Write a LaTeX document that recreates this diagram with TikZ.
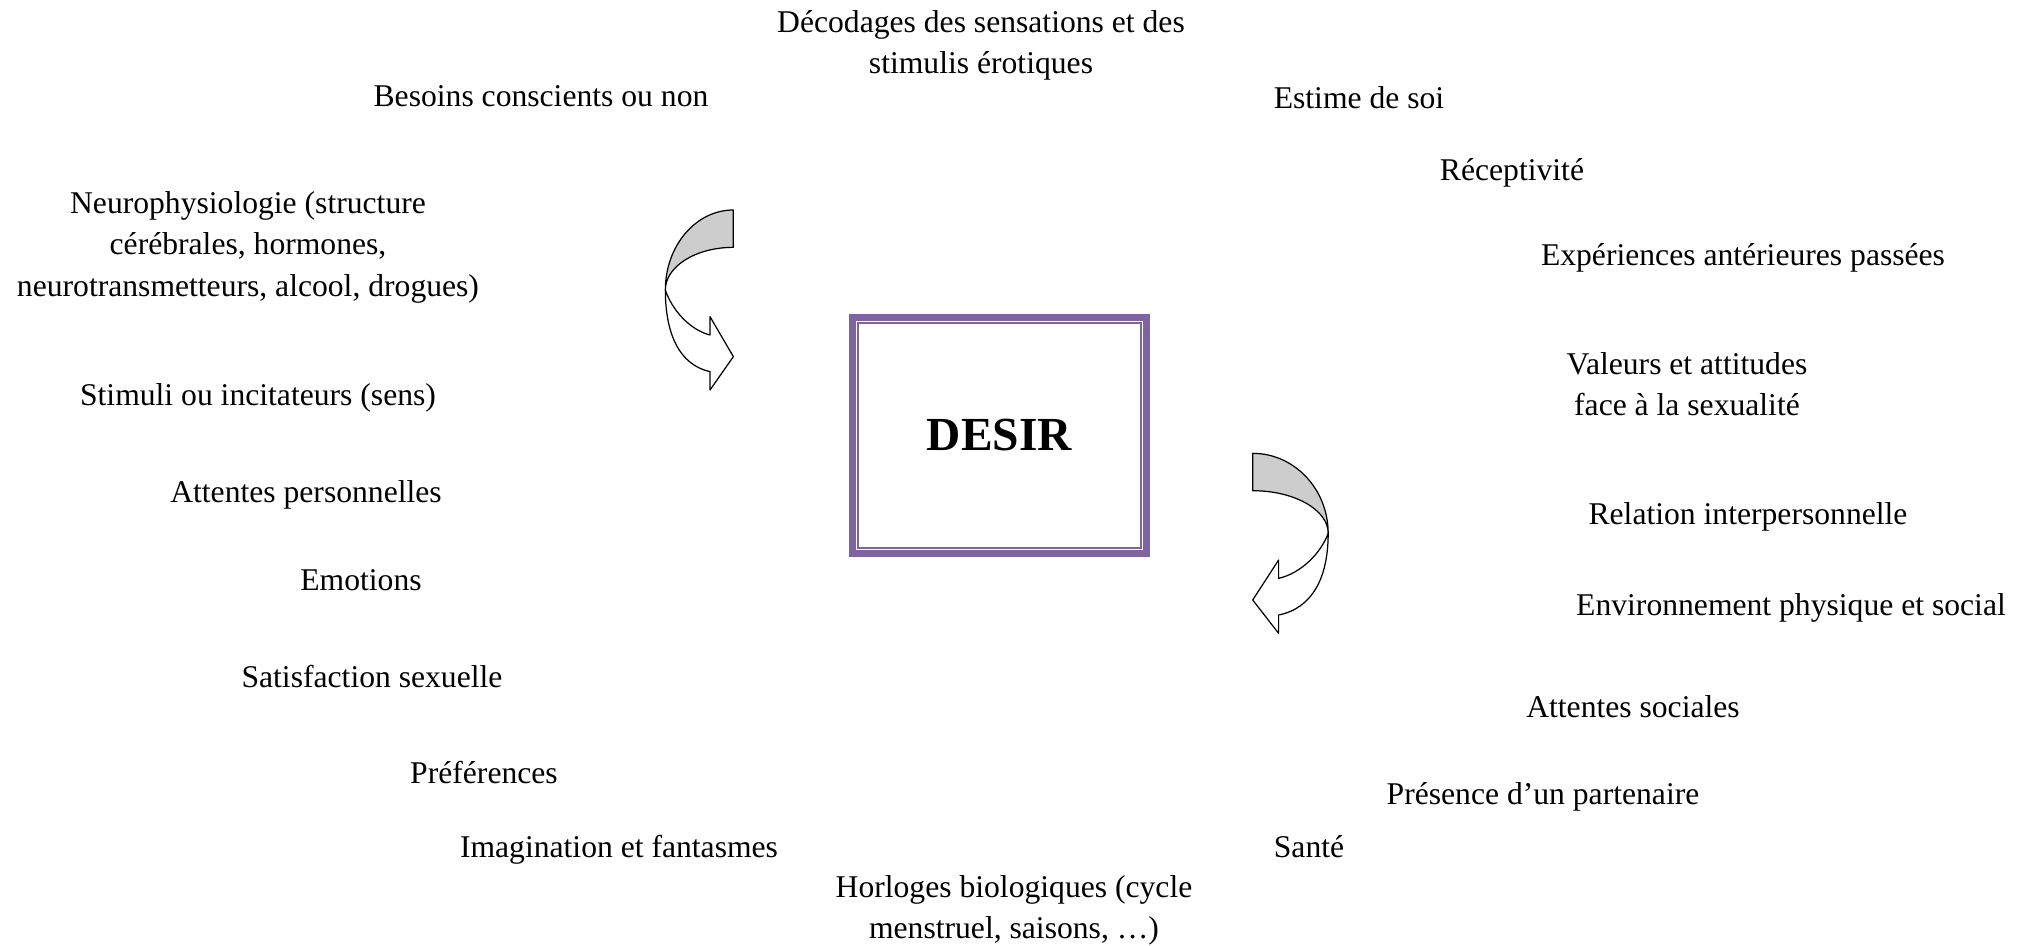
\documentclass[tikz,border=0pt]{standalone}
\usepackage{fontspec}
\setmainfont{Liberation Serif}
\usepackage{tikz}
\usetikzlibrary{arrows}
\definecolor{violet_cadre}{HTML}{8064A2}
\definecolor{gris_fleche}{RGB}{205,205,205}

\begin{document}
\begin{tikzpicture}
\tikzstyle{facteur}=[align=center,inner sep=0pt,font=\fontsize{18}{23.6}\selectfont]
\tikzstyle{cadre}=[rectangle,draw=violet_cadre,line width=0.14cm,minimum width=5.88cm,minimum height=4.72cm,font=\fontsize{27}{30}\selectfont\bfseries]
\tikzstyle{fleche_dos}=[draw,fill=gris_fleche,line width=0.7pt,line join=round]
\tikzstyle{fleche_face}=[draw,fill=white,line width=0.7pt,line join=round]
\useasboundingbox (0,0) rectangle (40.66,-18.92);

\node[cadre] (desir) at (19.99,-8.71){DESIR};
\draw[violet_cadre,line width=0.05cm] ([shift={(0.176,-0.176)}]desir.north west) rectangle ([shift={(-0.176,0.176)}]desir.south east);

\node[facteur] (decodages) at (19.62,-0.905){D\'ecodages des sensations et des\\stimulis \'erotiques};
\node[facteur] (besoins) at (10.82,-1.92){Besoins conscients ou non};
\node[facteur] (estime) at (27.18,-1.95){Estime de soi};
\node[facteur] (receptivite) at (30.24,-3.458){R\'eceptivit\'e};
\node[facteur] (neuro) at (4.96,-4.94){Neurophysiologie (structure\\c\'er\'ebrales, hormones,\\neurotransmetteurs, alcool, drogues)};
\node[facteur] (experiences) at (34.86,-5.158){Exp\'eriences ant\'erieures pass\'ees};
\node[facteur] (valeurs) at (33.74,-7.68){Valeurs et attitudes\\face \`a la sexualit\'e};
\node[facteur] (stimuli) at (5.16,-7.958){Stimuli ou incitateurs (sens)};
\node[facteur] (attentes_perso) at (6.12,-9.898){Attentes personnelles};
\node[facteur] (relation) at (34.96,-10.338){Relation interpersonnelle};
\node[facteur] (emotions) at (7.22,-11.60){Emotions};
\node[facteur] (environnement) at (35.82,-12.158){Environnement physique et social};
\node[facteur] (satisfaction) at (7.44,-13.54){Satisfaction sexuelle};
\node[facteur] (attentes_soc) at (32.66,-14.14){Attentes sociales};
\node[facteur] (preferences) at (9.68,-15.46){Pr\'ef\'erences};
\node[facteur] (presence) at (30.86,-15.938){Pr\'esence d’un partenaire};
\node[facteur] (imagination) at (12.38,-16.992){Imagination et fantasmes};
\node[facteur] (sante) at (26.18,-16.94){Sant\'e};
\node[facteur] (horloges) at (20.28,-18.212){Horloges biologiques (cycle\\menstruel, saisons, \dots)};

\foreach \px/\py/\sx in {14.667/-4.2/1, 25.054/-9.067/-1.11}{
  \begin{scope}[shift={(\px,\py)},xscale=\sx]
    \path[fleche_face] (-1.36,-1.6) .. controls (-1.36,-2.5) and (-1.067,-3.1) .. (-0.467,-3.233)
      -- (-0.467,-3.6) -- (0,-2.933) -- (-0.467,-2.133) -- (-0.467,-2.5)
      .. controls (-0.867,-2.4) and (-1.227,-2.0) .. (-1.36,-1.6) -- cycle;
    \path[fleche_dos] (0,0) arc[start angle=90,end angle=180,x radius=1.36,y radius=1.6]
      arc[start angle=180,end angle=90,x radius=1.36,y radius=0.853] -- cycle;
  \end{scope}
}

\end{tikzpicture}
\end{document}
